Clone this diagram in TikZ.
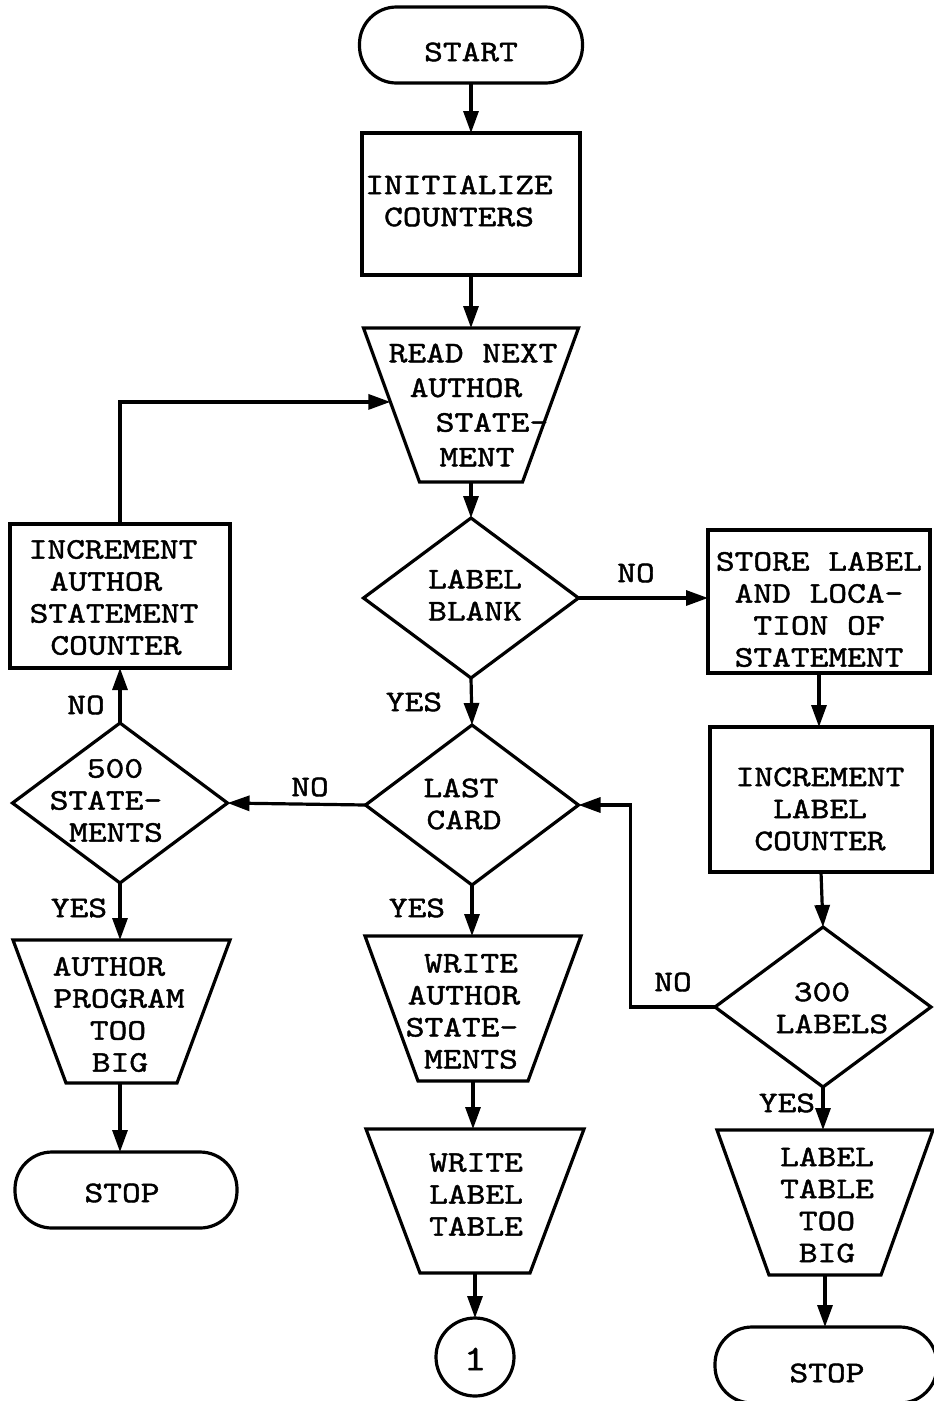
\documentclass[tikz,border=0pt]{standalone}
\usepackage{fontspec}
\newfontfamily\tw{lmmono10-regular.otf}[FakeStretch=1.19, FakeBold=1.4]
\usetikzlibrary{arrows.meta,shapes.geometric,calc}
% one centred line of text, moved sideways by #1 pt
\newcommand\Ln[2]{\makebox[0pt]{\kern#1pt\kern#1pt #2}}
% outline of an input/output block (wide side up)
\newcommand\trapdraw[2]{\draw[shpline] (#1.north west) -- (#1.north east) -- ([xshift=-#2pt]#1.south east) -- ([xshift=#2pt]#1.south west) -- cycle;}

\begin{document}
\begin{tikzpicture}[x=1pt,y=-1pt,
  shpline/.style={line width=3.2pt, line join=miter},
  shp/.style={draw=black, shpline, inner sep=0pt, outer sep=0pt},
  term/.style={shp, rectangle, rounded corners=37pt},
  proc/.style={shp, rectangle},
  dec/.style={shp, diamond},
  conn/.style={shp, circle},
  trapbox/.style={rectangle, draw=none, inner sep=0pt, outer sep=0pt},
  txt/.style={font=\tw\fontsize{30}{32}\selectfont, align=center, inner sep=0pt},
  lbl/.style={font=\tw\fontsize{30}{32}\selectfont, inner sep=0pt},
  flow/.style={line width=3.2pt, -{Triangle[length=22pt,width=15pt]}}
]
\fill[white] (0,0) rectangle (934,1401);
\useasboundingbox (0,0) rectangle (934,1401);

% ---- centre column ----
\node[term, minimum width=223pt, minimum height=76pt] (start) at (471,45) {};
\node[txt] (start-t) at (471,52) {START};
\node[proc, minimum width=218pt, minimum height=142pt] (init) at (471,204) {};
\node[txt] (init-t) at (459,201) {INITIALIZE\\COUNTERS};
\node[trapbox, minimum width=215pt, minimum height=154pt] (read) at (471,405) {};
\node[txt, font=\tw\fontsize{30}{34.7}\selectfont] (read-t) at (477,405)
  {\Ln{-4}{READ NEXT}\\\Ln{-11}{AUTHOR}\\\Ln{15}{STATE-}\\\Ln{0}{MENT}};
\node[dec, minimum width=215pt, minimum height=160pt] (blank) at (471,598) {};
\node[txt] (blank-t) at (475,595) {LABEL\\BLANK};
\node[dec, minimum width=213pt, minimum height=160pt] (last) at (472,805) {};
\node[txt] (last-t) at (462,804) {\Ln{-1}{LAST}\\\Ln{2}{CARD}};
\node[trapbox, minimum width=216pt, minimum height=145pt] (wauth) at (473,1008.5) {};
\node[txt] (wauth-t) at (467,1011.5)
  {\Ln{4}{WRITE}\\\Ln{-3}{AUTHOR}\\\Ln{-5}{STATE-}\\\Ln{4}{MENTS}};
\node[trapbox, minimum width=218pt, minimum height=144pt] (wlab) at (475,1201) {};
\node[txt] (wlab-t) at (476,1194.5) {WRITE\\LABEL\\TABLE};
\node[conn, minimum size=78pt] (con1) at (475,1357) {};
\node[txt, font=\tw\fontsize{36}{36}\selectfont] (con1-t) at (475,1359) {1};

% ---- left column ----
\node[proc, minimum width=220pt, minimum height=144pt] (incA) at (120,596) {};
\node[txt] (incA-t) at (113,597.5)
  {INCREMENT\\\Ln{-7}{AUTHOR}\\\Ln{1}{STATEMENT}\\\Ln{3}{COUNTER}};
\node[dec, minimum width=215pt, minimum height=160pt] (d500) at (120,803) {};
\node[txt] (d500-t) at (112,800.5) {\Ln{3}{500}\\\Ln{-6}{STATE-}\\\Ln{4}{MENTS}};
\node[trapbox, minimum width=217pt, minimum height=143pt] (aprog) at (121.5,1011.5) {};
\node[txt] (aprog-t) at (116,1014.5)
  {\Ln{-7}{AUTHOR}\\\Ln{3}{PROGRAM}\\\Ln{2}{TOO}\\\Ln{4}{BIG}};
\node[term, minimum width=222pt, minimum height=76pt] (stopL) at (126,1190) {};
\node[txt] (stopL-t) at (122,1193) {STOP};

% ---- right column ----
\node[proc, minimum width=222pt, minimum height=143pt] (store) at (819,601.5) {};
\node[txt] (store-t) at (819,609.5) {STORE LABEL\\AND LOCA-\\TION OF\\STATEMENT};
\node[proc, minimum width=222pt, minimum height=145pt] (incL) at (821,799.5) {};
\node[txt] (incL-t) at (820,809) {INCREMENT\\LABEL\\COUNTER};
\node[dec, minimum width=216pt, minimum height=160pt] (d300) at (823,1007) {};
\node[txt] (d300-t) at (827,1008) {\Ln{-5}{300}\\\Ln{5}{LABELS}};
\node[trapbox, minimum width=216pt, minimum height=145pt] (ltab) at (825,1202.5) {};
\node[txt] (ltab-t) at (827,1205) {LABEL\\TABLE\\TOO\\BIG};
\node[term, minimum width=222pt, minimum height=76pt] (stopR) at (826,1365) {};
\node[txt] (stopR-t) at (827,1373) {STOP};

% input/output outlines
\trapdraw{read}{56}
\trapdraw{wauth}{53}
\trapdraw{wlab}{54}
\trapdraw{aprog}{53}
\trapdraw{ltab}{52}

% branch labels
\node[lbl] (blank-no)  at (636,573)  {NO};
\node[lbl] (blank-yes) at (414,702)  {YES};
\node[lbl] (last-no)   at (310,787)  {NO};
\node[lbl] (last-yes)  at (417,908)  {YES};
\node[lbl] (d500-no)   at (86,705)   {NO};
\node[lbl] (d500-yes)  at (79,908)   {YES};
\node[lbl] (d300-no)   at (673,982)  {NO};
\node[lbl] (d300-yes)  at (787,1103) {YES};

% connectors
\coordinate (readin) at ($(read.north west)!0.48!([xshift=56pt]read.south west)$);
\draw[flow] (start.south) -- (start.south |- init.north);
\draw[flow] (init.south) -- (init.south |- read.north);
\draw[flow] (read.south) -- (read.south |- blank.north);
\draw[flow] (blank.east) -- (store.west |- blank.east);
\draw[flow] (blank.south) -- (last.north);
\draw[flow] (last.west) -- (d500.east);
\draw[flow] (d500.north) -- (incA.south);
\draw[flow] (incA.north) |- (readin);
\draw[flow] (d500.south) -- (d500.south |- aprog.north);
\draw[flow] (aprog.south -| d500.south) -- (d500.south |- stopL.north);
\draw[flow] (last.south) -- (last.south |- wauth.north);
\draw[flow] (wauth.south) -- (wauth.south |- wlab.north);
\draw[flow] (wlab.south) -- (con1.north);
\draw[flow] (store.south) -- (store.south |- incL.north);
\draw[flow] (incL.south) -- (d300.north);
\draw[flow] (d300.west) -| ([xshift=52pt]last.east) -- (last.east);
\draw[flow] (d300.south) -- (d300.south |- ltab.north);
\draw[flow] (ltab.south) -- (ltab.south |- stopR.north);
\end{tikzpicture}
\end{document}
